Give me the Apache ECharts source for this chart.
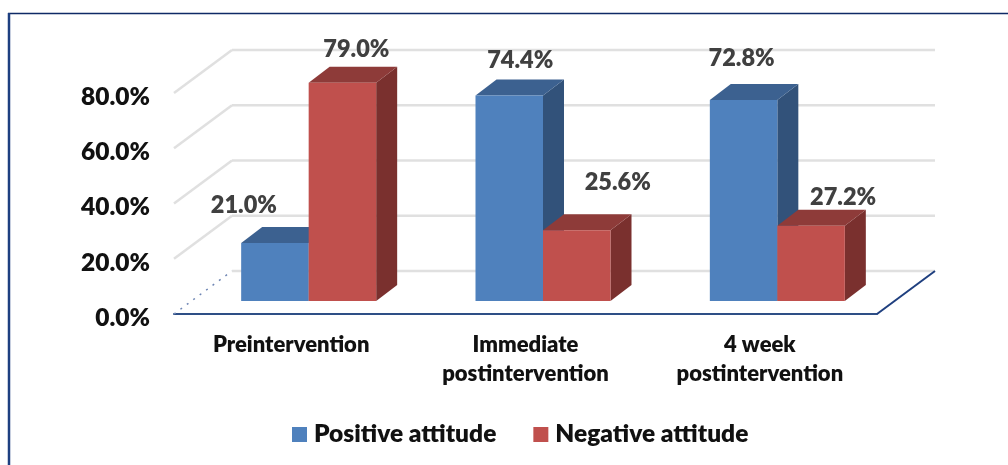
<!DOCTYPE html>
<html>
<head>
<meta charset="utf-8">
<style>html,body{margin:0;padding:0;background:#fff}#chart{width:1008px;height:465px}</style>
<script src="https://cdn.jsdelivr.net/npm/echarts@6/dist/echarts.min.js"></script>
</head>
<body>
<div id="chart"></div>
<script>
const categories = ['Preintervention', 'Immediate\npostintervention', '4 week\npostintervention'];
const positive = [21.0, 74.4, 72.8];
const negative = [79.0, 25.6, 27.2];
const yTicks = [0, 20, 40, 60, 80];

// Per-bar nudges for the value labels, relative to the bar's top centre.
const positiveNudge = [[-31, -39], [11, -36], [-2, -42]];
const negativeNudge = [[14, -34], [41, -49], [32, -29]];

const FONT = 'Lato, "Open Sans", sans-serif';
const WEIGHT = 800;
const WALL = { dx: 58, dy: -43 };   // floor depth from front axis to back wall
const BAR = { inset: 17.5, dx: 21, dy: -16, rise: 13, width: 67.5 };

const shade = {
  pos: { front: '#4f81bd', top: '#3c6190', side: '#32527a' },
  neg: { front: '#c0504d', top: '#8e3b39', side: '#7a302e' }
};

function poly(points, fill) {
  return { type: 'polygon', shape: { points }, style: { fill } };
}

// Extruded column: front face, top face and right side.
function barRenderer(colors, nudges, barOffset) {
  return function (params, api) {
    const idx = api.value(0), val = api.value(1);
    const c = api.coord([idx, val]);
    const base = api.coord([idx, 0]);
    const left = c[0] + BAR.inset + barOffset * BAR.width;
    const right = left + BAR.width;
    const top = c[1] - BAR.rise;
    const bottom = base[1] - BAR.rise;
    const d = nudges[idx];
    return {
      type: 'group',
      children: [
        poly([[right, top], [right + BAR.dx, top + BAR.dy], [right + BAR.dx, bottom + BAR.dy], [right, bottom]], colors.side),
        poly([[left, top], [left + BAR.dx, top + BAR.dy], [right + BAR.dx, top + BAR.dy], [right, top]], colors.top),
        { type: 'rect', shape: { x: left, y: top, width: BAR.width, height: bottom - top }, style: { fill: colors.front } },
        {
          type: 'text', z2: 20,
          style: {
            x: (left + right) / 2 + d[0], y: top + d[1] + 1,
            text: val.toFixed(1) + '%', align: 'center', verticalAlign: 'middle',
            fill: '#404040', font: WEIGHT + ' 23.5px ' + FONT
          }
        }
      ]
    };
  };
}

// Side-wall and back-wall gridlines, plus the floor edges at zero.
function wallRenderer(params, api) {
  const g = params.coordSys;
  const y = api.coord([0, api.value(0)])[1];
  const x0 = g.x, x1 = g.x + g.width;
  const isFloor = api.value(0) === 0;
  const grey = { stroke: '#e0e0e0', lineWidth: 2.5, fill: null };
  const children = [
    {
      type: 'polyline',
      shape: { points: [[x0, y], [x0 + WALL.dx, y + WALL.dy]] },
      style: isFloor ? { stroke: '#6f86b4', lineWidth: 1.5, lineDash: [2, 6], fill: null } : grey
    },
    {
      type: 'polyline',
      shape: { points: [[x0 + WALL.dx, y + WALL.dy], [x1 + WALL.dx, y + WALL.dy]] },
      style: grey
    }
  ];
  if (isFloor) {
    children.push({
      type: 'polyline',
      shape: { points: [[x1, y], [x1 + WALL.dx, y + WALL.dy]] },
      style: { stroke: '#1f3f7f', lineWidth: 2, fill: null }
    });
  }
  return { type: 'group', children };
}

const chart = echarts.init(document.getElementById('chart'), null, { renderer: 'canvas' });

chart.setOption({
  animation: false,
  backgroundColor: '#ffffff',
  graphic: [
    { type: 'line', z: 0, shape: { x1: 8, y1: 13.5, x2: 1008, y2: 13.5 }, style: { stroke: '#0f2a66', lineWidth: 1.5 } },
    { type: 'line', z: 0, shape: { x1: 9, y1: 13, x2: 9, y2: 465 }, style: { stroke: '#1d3f80', lineWidth: 2.5 } }
  ],
  legend: {
    left: 287, top: 417,
    itemWidth: 15, itemHeight: 15, itemGap: 37,
    icon: 'rect',
    data: ['Positive attitude', 'Negative attitude'],
    textStyle: { color: '#111', fontFamily: FONT, fontWeight: WEIGHT, fontSize: 24.5, padding: [0, 0, 0, 2] }
  },
  grid: { left: 174, right: 131, top: 93, bottom: 151 },
  xAxis: {
    type: 'category',
    data: categories,
    axisTick: { show: false },
    axisLine: { lineStyle: { color: '#2e4f86', width: 2 } },
    axisLabel: {
      color: '#111', fontFamily: FONT, fontWeight: WEIGHT, fontSize: 22,
      lineHeight: 29, margin: 16, interval: 0
    }
  },
  yAxis: {
    type: 'value', min: 0, max: 80, interval: 20,
    axisLine: { show: false },
    axisTick: { show: false },
    splitLine: { show: false },
    axisLabel: {
      color: '#111', fontFamily: FONT, fontWeight: WEIGHT, fontSize: 24.5, margin: 24,
      verticalAlign: 'top', lineHeight: 8,
      formatter: v => v.toFixed(1) + '%'
    }
  },
  series: [
    {
      type: 'custom', name: 'walls', silent: true, z: 1,
      renderItem: wallRenderer,
      data: yTicks.map(v => [v]),
      encode: { y: 0 }
    },
    {
      type: 'custom', name: 'Positive attitude', z: 3,
      itemStyle: { color: shade.pos.front },
      renderItem: barRenderer(shade.pos, positiveNudge, -1),
      data: positive.map((v, i) => [i, v]),
      encode: { x: 0, y: 1 }
    },
    {
      type: 'custom', name: 'Negative attitude', z: 4,
      itemStyle: { color: shade.neg.front },
      renderItem: barRenderer(shade.neg, negativeNudge, 0),
      data: negative.map((v, i) => [i, v]),
      encode: { x: 0, y: 1 }
    }
  ]
});
</script>
</body>
</html>
